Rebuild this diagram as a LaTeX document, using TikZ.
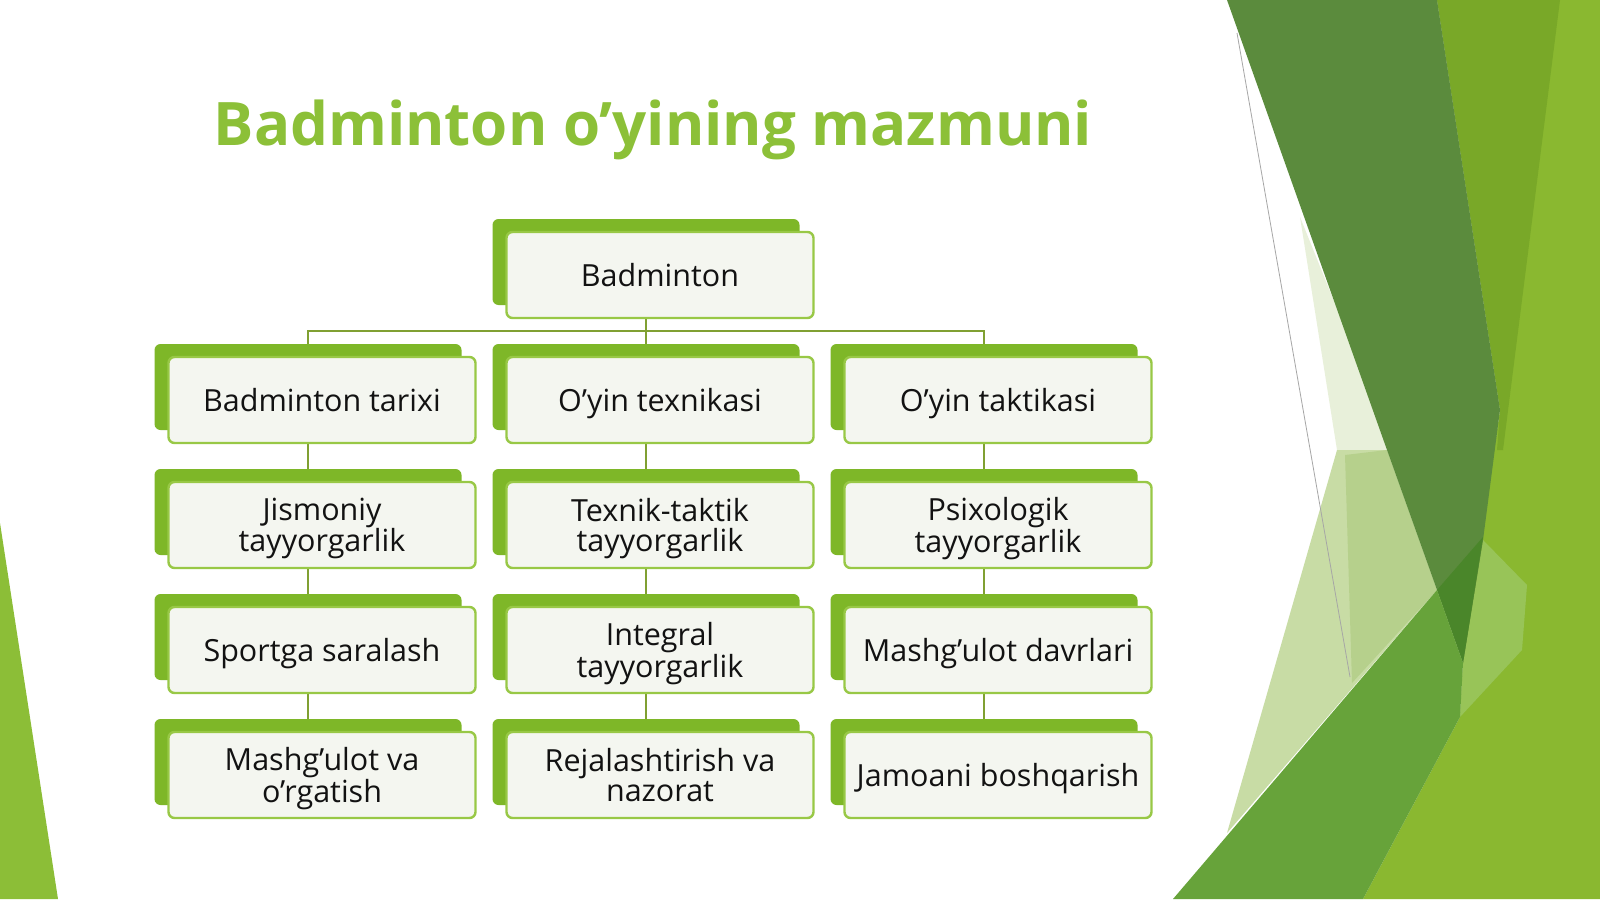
\documentclass[tikz,border=0pt]{standalone}
\usepackage{fontspec}
\setmainfont{Open Sans}
\pgfdeclarelayer{deco}
\pgfdeclarelayer{bg}
\pgfsetlayers{deco,bg,main}
\definecolor{boxgreen}{RGB}{126,183,40}
\definecolor{edgegreen}{RGB}{152,200,70}
\definecolor{boxfill}{RGB}{244,246,240}
\definecolor{linkgreen}{RGB}{128,160,50}
\definecolor{textdark}{RGB}{18,18,18}
\definecolor{titlegreen}{RGB}{140,192,56}
\definecolor{darkband}{RGB}{91,139,61}
\definecolor{darkertip}{RGB}{74,134,42}
\definecolor{limeA}{RGB}{121,168,40}
\definecolor{limeB}{RGB}{138,184,48}
\definecolor{limeC}{RGB}{152,196,88}
\definecolor{midband}{RGB}{103,163,58}
\definecolor{paleA}{RGB}{200,220,165}
\definecolor{paleB}{RGB}{182,208,140}
\definecolor{paleW}{RGB}{232,240,218}
\definecolor{leftgreen}{RGB}{140,190,55}
\begin{document}
\begin{tikzpicture}[x=1pt,y=-1pt,
  backbox/.style={fill=boxgreen, rounded corners=6pt, minimum width=307pt, minimum height=86pt, inner sep=0pt},
  frontbox/.style={draw=edgegreen, line width=2.4pt, fill=boxfill, rounded corners=6pt,
    minimum width=307pt, minimum height=86pt, inner sep=0pt, align=center,
    font=\fontsize{30.5}{29.5}\selectfont, text=textdark, text depth=0pt},
  link/.style={draw=linkgreen, line width=2pt}]
\useasboundingbox (0,0) rectangle (1600,899);
\begin{pgfonlayer}{deco}
  \fill[white] (0,0) rectangle (1600,899);
  % left triangle
  \fill[leftgreen] (0,523) -- (58,899) -- (0,899) -- cycle;
  % right decoration
  \fill[limeB] (1437,0) -- (1600,0) -- (1600,899) -- (1363,899) -- (1460,717) -- (1463,663) -- (1500,410) -- cycle;
  \fill[limeA] (1437,0) -- (1560,0) -- (1503,450) -- (1497,450) -- (1500,410) -- cycle;
  \fill[limeC] (1483,540) -- (1527,585) -- (1522,650) -- (1460,717) -- (1463,663) -- cycle;
  \fill[paleW] (1300,217) -- (1367,383) -- (1387,450) -- (1337,450) -- cycle;
  \fill[paleA] (1337,450) -- (1387,450) -- (1437,590) -- (1227,833) -- cycle;
  \fill[paleB] (1345,455) -- (1387,450) -- (1437,590) -- (1352,683) -- cycle;
  \fill[darkband] (1227,0) -- (1437,0) -- (1500,410) -- (1483,540) -- (1463,663) -- (1437,590) -- (1387,450) -- cycle;
  \fill[darkertip] (1437,590) -- (1483,537) -- (1463,663) -- cycle;
  \fill[midband] (1437,590) -- (1463,663) -- (1460,717) -- (1363,899) -- (1173,899) -- cycle;
  \draw[gray!70, line width=0.8pt] (1237,33) -- (1350,677);
\end{pgfonlayer}

\node[font=\fontsize{60}{72}\selectfont\bfseries, text=titlegreen, anchor=base] (title) at (653,145) {Badminton o’yining mazmuni};

% root
\node[backbox] (b0) at (646,262) {};
\node[frontbox] (f0) at (660,275) {Badminton};

% row 1
\node[backbox] (b11) at (308,387) {};
\node[frontbox] (f11) at (322,400) {Badminton tarixi};
\node[backbox] (b12) at (646,387) {};
\node[frontbox] (f12) at (660,400) {O’yin texnikasi};
\node[backbox] (b13) at (984,387) {};
\node[frontbox] (f13) at (998,400) {O’yin taktikasi};
% row 2
\node[backbox] (b21) at (308,512) {};
\node[frontbox] (f21) at (322,525) {Jismoniy\\tayyorgarlik};
\node[backbox] (b22) at (646,512) {};
\node[frontbox] (f22) at (660,525) {Texnik-taktik\\tayyorgarlik};
\node[backbox] (b23) at (984,512) {};
\node[frontbox] (f23) at (998,525) {Psixologik\\tayyorgarlik};
% row 3
\node[backbox] (b31) at (308,637) {};
\node[frontbox] (f31) at (322,650) {Sportga saralash};
\node[backbox] (b32) at (646,637) {};
\node[frontbox] (f32) at (660,650) {Integral\\tayyorgarlik};
\node[backbox] (b33) at (984,637) {};
\node[frontbox] (f33) at (998,650) {Mashg’ulot davrlari};
% row 4
\node[backbox] (b41) at (308,762) {};
\node[frontbox] (f41) at (322,775) {Mashg’ulot va\\o’rgatish};
\node[backbox] (b42) at (646,762) {};
\node[frontbox] (f42) at (660,775) {Rejalashtirish va\\nazorat};
\node[backbox] (b43) at (984,762) {};
\node[frontbox] (f43) at (998,775) {Jamoani boshqarish};

\coordinate (hub) at (646,331);
\begin{pgfonlayer}{bg}
  \draw[link] (b0.center) -- (hub);
  \draw[link] (b11.north) |- (hub) -| (b13.north);
  \draw[link] (hub) -- (b12.north);
  \foreach \c in {1,2,3}{
    \draw[link] (b1\c.center) -- (b2\c.center);
    \draw[link] (b2\c.center) -- (b3\c.center);
    \draw[link] (b3\c.center) -- (b4\c.center);
  }
\end{pgfonlayer}
\end{tikzpicture}
\end{document}
